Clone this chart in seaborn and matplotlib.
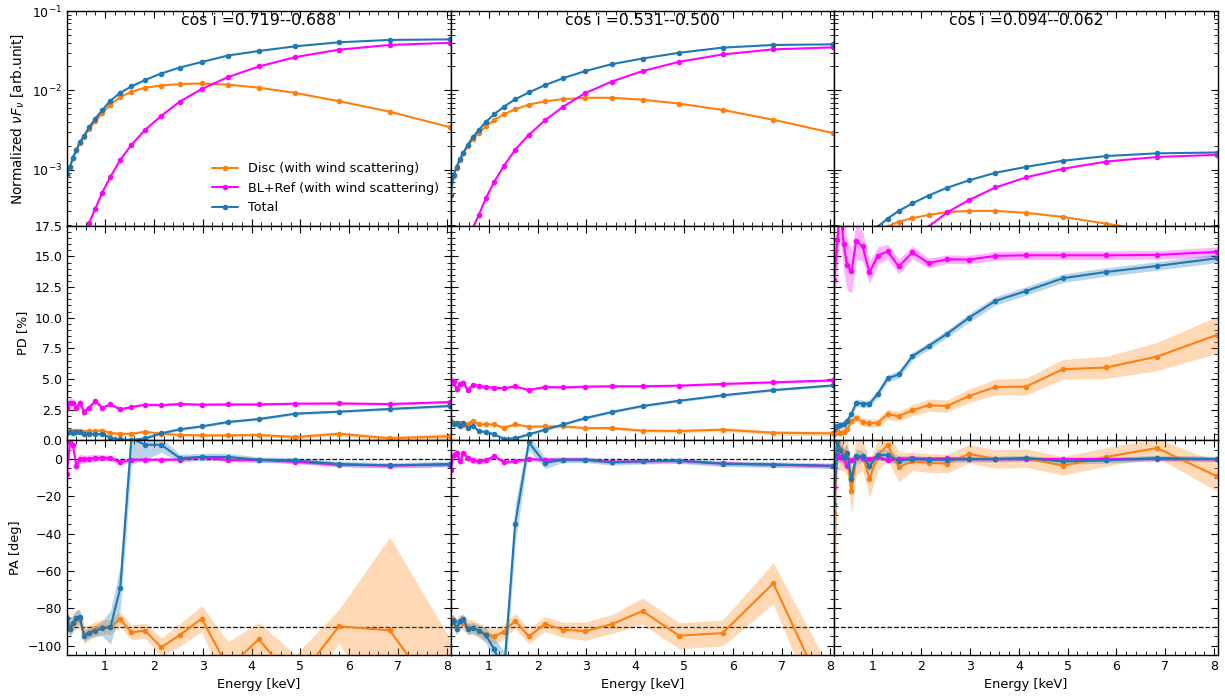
""" polarisation of disc + boundary layer emission seen through a wind,
    three inclination bins side by side: flux, PD and PA against energy """

import numpy as np
import matplotlib
matplotlib.use('Agg')
import matplotlib.pyplot as plt
from matplotlib.ticker import MultipleLocator
import seaborn as sns

# ~~~~~~~~~  Data  ~~~~ ~~~~~~ ~~~~~~~~~~~~ ~~~~~~~~~~ ~ #
energy = [0.22, 0.28, 0.34, 0.41, 0.48, 0.57, 0.67, 0.80, 0.94, 1.11, 1.31, 1.54,
          1.82, 2.15, 2.53, 2.98, 3.52, 4.15, 4.90, 5.79, 6.83, 8.06]

titles = ['cos i =0.719--0.688', 'cos i =0.531--0.500', 'cos i =0.094--0.062']
labels = ['Disc (with wind scattering)', 'BL+Ref (with wind scattering)', 'Total']
colors = ['#ff7f0e', '#ff00ff', '#1f77b4']

# normalized nuFnu, one row per inclination bin
flux_disc = [
    [8.6e-4, 1.07e-3, 1.39e-3, 1.74e-3, 2.15e-3, 2.6e-3, 3.25e-3, 4.1e-3, 5.1e-3, 6.6e-3, 8.2e-3,
     9.6e-3, 1.08e-2, 1.15e-2, 1.2e-2, 1.22e-2, 1.18e-2, 1.08e-2, 9.25e-3, 7.3e-3, 5.37e-3, 3.43e-3],
    [4.8e-4, 8.4e-4, 1.06e-3, 1.33e-3, 1.6e-3, 1.96e-3, 2.4e-3, 2.9e-3, 3.52e-3, 4.2e-3, 5.0e-3,
     5.76e-3, 6.6e-3, 7.25e-3, 7.74e-3, 8.05e-3, 8.05e-3, 7.6e-3, 6.8e-3, 5.65e-3, 4.25e-3, 2.88e-3],
    [1.9e-5, 2.7e-5, 3.5e-5, 4.5e-5, 5.6e-5, 7.0e-5, 8.8e-5, 1.08e-4, 1.3e-4, 1.55e-4, 1.9e-4,
     2.2e-4, 2.43e-4, 2.67e-4, 2.9e-4, 3.0e-4, 3.0e-4, 2.84e-4, 2.52e-4, 2.07e-4, 1.65e-4, 1.2e-4]]
flux_bl = [
    [3e-6, 7e-6, 1.5e-5, 3e-5, 6e-5, 1.1e-4, 2.1e-4, 3.2e-4, 5.1e-4, 8.1e-4, 1.32e-3,
     2.05e-3, 3.16e-3, 4.75e-3, 7.2e-3, 1.04e-2, 1.47e-2, 2.0e-2, 2.63e-2, 3.26e-2, 3.74e-2, 3.98e-2],
    [2e-6, 5e-6, 1e-5, 2e-5, 4e-5, 8e-5, 1.8e-4, 2.7e-4, 4.33e-4, 6.95e-4, 1.11e-3,
     1.77e-3, 2.73e-3, 4.17e-3, 6.24e-3, 9.25e-3, 1.29e-2, 1.75e-2, 2.29e-2, 2.84e-2, 3.29e-2, 3.49e-2],
    [1e-7, 2e-7, 4e-7, 8e-7, 1.5e-6, 3e-6, 5e-6, 9e-6, 1.6e-5, 3e-5, 5e-5,
     8e-5, 1.25e-4, 1.9e-4, 2.87e-4, 4.12e-4, 5.93e-4, 7.97e-4, 1.02e-3, 1.26e-3, 1.44e-3, 1.53e-3]]
flux_tot = [
    [8.7e-4, 1.08e-3, 1.41e-3, 1.77e-3, 2.2e-3, 2.67e-3, 3.4e-3, 4.4e-3, 5.6e-3, 7.4e-3, 9.3e-3,
     1.12e-2, 1.35e-2, 1.63e-2, 1.94e-2, 2.28e-2, 2.75e-2, 3.14e-2, 3.6e-2, 4.04e-2, 4.33e-2, 4.4e-2],
    [4.8e-4, 8.5e-4, 1.07e-3, 1.35e-3, 1.64e-3, 2.04e-3, 2.55e-3, 3.18e-3, 3.99e-3, 4.98e-3, 6.2e-3,
     7.7e-3, 9.4e-3, 1.16e-2, 1.43e-2, 1.75e-2, 2.14e-2, 2.52e-2, 2.98e-2, 3.46e-2, 3.74e-2, 3.81e-2],
    [2e-5, 2.8e-5, 3.6e-5, 4.6e-5, 5.8e-5, 7.3e-5, 9.2e-5, 1.15e-4, 1.45e-4, 1.9e-4, 2.4e-4,
     3.0e-4, 3.74e-4, 4.69e-4, 5.89e-4, 7.3e-4, 9.1e-4, 1.08e-3, 1.29e-3, 1.48e-3, 1.6e-3, 1.64e-3]]

# polarisation degree [%]
pd_disc = [
    [0.68, 0.76, 0.80, 0.76, 0.78, 0.72, 0.74, 0.76, 0.80, 0.60, 0.54, 0.54, 0.70, 0.54, 0.44, 0.41,
     0.41, 0.44, 0.27, 0.54, 0.16, 0.33],
    [1.57, 1.44, 1.30, 1.44, 1.25, 1.36, 1.57, 1.30, 1.30, 1.30, 1.03, 1.30, 1.11, 1.14, 1.14, 1.00,
     1.00, 0.79, 0.76, 0.87, 0.62, 0.57],
    [0.49, 0.90, 0.63, 0.71, 0.90, 1.57, 1.84, 1.49, 1.41, 1.44, 2.12, 1.98, 2.45, 2.86, 2.80, 3.62,
     4.35, 4.38, 5.80, 5.94, 6.83, 8.60]]
pd_bl = [
    [2.66, 3.07, 3.07, 2.66, 3.07, 2.34, 2.66, 3.20, 2.66, 2.93, 2.53, 2.72, 2.91, 2.88, 2.96, 2.91,
     2.93, 2.93, 2.99, 3.01, 2.96, 3.12],
    [4.70, 4.80, 4.15, 4.60, 4.70, 4.10, 4.50, 4.45, 4.35, 4.30, 4.25, 4.40, 4.10, 4.35, 4.32, 4.38,
     4.41, 4.41, 4.46, 4.60, 4.73, 4.89],
    [13.06, 16.3, 19.0, 16.05, 14.28, 13.77, 16.27, 15.81, 13.69, 15.07, 15.4, 14.18, 15.32, 14.45,
     14.77, 14.74, 15.04, 15.09, 15.09, 15.09, 15.12, 15.37]]
pd_tot = [
    [0.62, 0.70, 0.62, 0.72, 0.68, 0.55, 0.52, 0.50, 0.52, 0.22, 0.08, 0.03, 0.16, 0.57, 0.90, 1.14,
     1.50, 1.74, 2.18, 2.34, 2.56, 2.80],
    [1.44, 1.30, 1.44, 1.17, 1.44, 0.98, 1.17, 0.76, 0.68, 0.49, 0.13, 0.16, 0.49, 0.87, 1.30, 1.82,
     2.31, 2.80, 3.23, 3.67, 4.10, 4.48],
    [0.90, 1.17, 1.25, 1.30, 1.57, 2.17, 3.07, 2.99, 2.99, 3.80, 5.05, 5.37, 6.87, 7.69, 8.69, 10.0,
     11.37, 12.18, 13.22, 13.73, 14.22, 14.85]]

# 1-sigma half widths of the PD bands
pd_disc_err = [
    [0.15, 0.15, 0.12, 0.12, 0.1, 0.1, 0.1, 0.1, 0.1, 0.1, 0.1, 0.1, 0.1, 0.1, 0.1, 0.1, 0.1, 0.12,
     0.15, 0.15, 0.2, 0.25],
    [0.15, 0.15, 0.12, 0.12, 0.12, 0.12, 0.1, 0.1, 0.1, 0.1, 0.1, 0.1, 0.1, 0.1, 0.1, 0.1, 0.12, 0.12,
     0.15, 0.15, 0.15, 0.2],
    [0.3, 0.3, 0.3, 0.3, 0.3, 0.3, 0.35, 0.35, 0.35, 0.35, 0.4, 0.4, 0.45, 0.5, 0.5, 0.55, 0.65, 0.7,
     0.8, 0.9, 1.15, 1.5]]
pd_bl_err = [
    [0.5, 0.4, 0.35, 0.3, 0.3, 0.25, 0.2, 0.2, 0.15, 0.15, 0.12, 0.1, 0.1, 0.1, 0.1, 0.1, 0.1, 0.1,
     0.1, 0.1, 0.1, 0.1],
    [0.4, 0.35, 0.3, 0.3, 0.25, 0.2, 0.2, 0.15, 0.15, 0.12, 0.12, 0.1, 0.1, 0.1, 0.1, 0.1, 0.1, 0.1,
     0.1, 0.1, 0.1, 0.1],
    [2.0, 2.0, 2.4, 2.2, 2.0, 1.8, 1.5, 1.2, 0.9, 0.7, 0.6, 0.6, 0.5, 0.4, 0.35, 0.35, 0.35, 0.35,
     0.35, 0.35, 0.35, 0.4]]
pd_tot_err = [
    [0.15, 0.15, 0.12, 0.12, 0.1, 0.1, 0.1, 0.1, 0.1, 0.1, 0.1, 0.1, 0.1, 0.1, 0.1, 0.1, 0.1, 0.1,
     0.1, 0.1, 0.1, 0.1],
    [0.15, 0.15, 0.12, 0.12, 0.12, 0.12, 0.1, 0.1, 0.1, 0.1, 0.1, 0.1, 0.1, 0.1, 0.1, 0.1, 0.1, 0.1,
     0.1, 0.1, 0.1, 0.1],
    [0.3, 0.3, 0.3, 0.3, 0.3, 0.3, 0.3, 0.3, 0.3, 0.3, 0.3, 0.3, 0.3, 0.3, 0.3, 0.35, 0.35, 0.35,
     0.35, 0.35, 0.35, 0.35]]

# polarisation angle [deg]
pa_disc = [
    [-86, -90, -88, -86, -86, -94, -93, -91, -90, -90, -85.8, -92.9, -92.0, -100.9, -94.4, -85.5,
     -112, -96.6, -120, -89.7, -91.8, -136],
    [-88, -87, -90, -87, -88, -90, -90, -92, -93.8, -95.1, -92.6, -86.7, -95.1, -88.5, -91.5, -92.2,
     -88.5, -81.5, -94.7, -93.3, -66.6, -136],
    [-29, 9, 6, 3.5, 1, -16.9, 1.4, 1.8, -10.7, 1.8, 7.6, -4.3, -1.3, -2.1, -2.5, 2.8,
     0, 0.5, -3.6, 1.1, 5.9, -9.3]]
pa_bl = [
    [-8, 8.9, 7.5, -3.6, 0, 0, 0.2, 0.5, 0.8, 0.5, -1.8, -0.4, -0.4, -0.4, -0.3, 1.0,
     -0.5, -0.5, -1.5, -3, -3.5, -3],
    [-5.7, 2.3, 3.2, -1.3, 3.2, 0.5, -0.7, -1.3, -0.7, 1.4, -1.6, -1.3, 0, -0.5, -0.3, -0.3,
     -1.5, -1.2, -1.0, -2.4, -3.0, -3.8],
    [-15, 2, 1, 0.5, -3.9, -0.4, 1.0, 0.5, 0, 1.4, -0.7, 0.2, 0.3, 0.2, 0.3, 0,
     0, 0, 0, 0, 0, 0]]
pa_tot = [
    [-85, -91, -88, -85, -84.6, -94.7, -93, -92, -90.8, -90.2, -69.2, 11, 7.6, 7.6, 0.5, 1.1,
     1.1, -0.4, -0.7, -2.7, -3.4, -2.7],
    [-87.6, -86.7, -91, -87, -86, -91, -90.5, -92, -94.5, -101.8, -115, -35.1, 8.9, -2.1, -0.4, -0.4,
     -1.8, -1.2, -0.9, -2.5, -3.0, -3.6],
    [-24, 10, 5, 1, 3, -10.7, 1.4, 1.4, -3.9, 2.3, 2.0, -0.9, 0, -0.4, -0.4, 0,
     0, 0.5, -1.3, -0.7, 0.5, 0]]

# half widths of the PA bands
pa_disc_err = [
    [5, 5, 5, 5, 5, 5, 4, 4, 4, 4, 4, 4, 4, 5, 6, 7, 14, 9, 15, 9, 50, 40],
    [4, 4, 4, 4, 4, 4, 4, 4, 4, 4, 4, 4, 4, 4, 4, 5, 5, 7, 7, 7, 11, 20],
    [80, 15, 12, 10, 10, 12, 10, 8, 10, 8, 8, 8, 5, 5, 5, 5, 5, 5, 5, 5, 5, 8]]
pa_bl_err = [
    [3, 3, 3, 3, 2.5, 2, 2, 2, 1.5, 1.5, 1.5, 1, 1, 1, 1, 1, 1, 1, 1, 1, 1, 1],
    [3, 3, 2.5, 2.5, 2, 2, 1.5, 1.5, 1.5, 1, 1, 1, 1, 1, 1, 1, 1, 1, 1, 1, 1, 1],
    [8, 4, 3, 2, 2, 1.5, 1.5, 1.5, 1, 1, 1, 1, 1, 1, 1, 1, 1, 1, 1, 1, 1, 1]]
pa_tot_err = [
    [4, 4, 4, 4, 4, 3, 3, 3, 4, 9, 12, 14, 8, 4, 2, 2, 2, 1.5, 1.5, 1.5, 1.5, 1.5],
    [3, 3, 3, 3, 3, 3, 3, 3, 4, 6, 12, 11, 4, 3, 1.5, 1.5, 1.5, 1.5, 1.5, 1.5, 1.5, 1.5],
    [50, 8, 6, 5, 5, 6, 4, 3, 3, 3, 3, 2.5, 2, 1.5, 1.5, 1.5, 1.5, 1.5, 1.5, 1.5, 1.5, 1.5]]


# ~~~~~~~~~  Definition of Functions  ~~~~ ~~~~~~ ~~~~~~~~~~~~ ~~~~~~~~~~ ~ #
def draw_series(ax, values, color, label=None, err=None):
    # optional shaded band first, then the line with dots on top
    if err is not None:
        lo = np.array(values) - np.array(err)
        hi = np.array(values) + np.array(err)
        ax.fill_between(energy, lo, hi, color=color, alpha=0.3, linewidth=0)
    sns.lineplot(x=energy, y=values, ax=ax, color=color, marker='o', markersize=4,
                 markeredgecolor=color, markeredgewidth=0, linewidth=1.5,
                 estimator=None, sort=False, errorbar=None, label=label, legend=False)
# end function draw_series


# ~~~~~~~~~  Program Execution     ~~ ~~~~ ~~~~~~ ~~~~~~~~~~~~ ~~~~~~~~~~ ~ #
sns.set_style('ticks', {'axes.edgecolor': 'black', 'xtick.color': 'black', 'ytick.color': 'black',
                        'text.color': 'black', 'axes.labelcolor': 'black'})
plt.rcParams['font.family'] = ['DejaVu Sans']
plt.rcParams['axes.linewidth'] = 1.0

fig, axes = plt.subplots(3, 3, figsize=(12.25, 6.96), dpi=100, sharex=True, sharey='row')
fig.subplots_adjust(left=0.0547, right=0.9943, top=0.984, bottom=0.059, hspace=0, wspace=0)

for c in range(3):
    ax_f, ax_pd, ax_pa = axes[0, c], axes[1, c], axes[2, c]
    ax_f.set_yscale('log')

    flux = [flux_disc[c], flux_bl[c], flux_tot[c]]
    pds = [pd_disc[c], pd_bl[c], pd_tot[c]]
    pds_err = [pd_disc_err[c], pd_bl_err[c], pd_tot_err[c]]
    pas = [pa_disc[c], pa_bl[c], pa_tot[c]]
    pas_err = [pa_disc_err[c], pa_bl_err[c], pa_tot_err[c]]

    for k in range(3):
        draw_series(ax_f, flux[k], colors[k], label=labels[k] if c == 0 else None)
        draw_series(ax_pd, pds[k], colors[k], err=pds_err[k])
        draw_series(ax_pa, pas[k], colors[k], err=pas_err[k])

    ax_pa.axhline(0, color='k', ls='--', lw=0.9, zorder=0.5)
    ax_pa.axhline(-90, color='k', ls='--', lw=0.9, zorder=0.5)

    ax_f.text(0.5, 0.99, titles[c], transform=ax_f.transAxes, ha='center', va='top', fontsize=11.3)

    for ax in (ax_f, ax_pd, ax_pa):
        ax.set_xlabel('')
        ax.set_ylabel('')
        ax.tick_params(which='both', direction='in', top=True, right=True, labelsize=9,
                       color='black', labelcolor='black')
        ax.tick_params(which='major', length=5)
        ax.tick_params(which='minor', length=3)
    ax_pa.set_xlabel('Energy [keV]', fontsize=9.3)

# shared limits and tick spacing
axes[0, 0].set_xlim(0.22, 8.08)
axes[0, 0].xaxis.set_major_locator(MultipleLocator(1))
axes[0, 0].xaxis.set_minor_locator(MultipleLocator(0.2))
axes[0, 0].set_ylim(1.95e-4, 0.1)
axes[1, 0].set_ylim(0, 17.5)
axes[1, 0].yaxis.set_major_locator(MultipleLocator(2.5))
axes[1, 0].yaxis.set_minor_locator(MultipleLocator(0.5))
axes[2, 0].set_ylim(-105, 10)
axes[2, 0].yaxis.set_major_locator(MultipleLocator(20))
axes[2, 0].yaxis.set_minor_locator(MultipleLocator(5))

axes[0, 0].set_ylabel(r'Normalized $\nu F_\nu$ [arb.unit]', fontsize=9.8)
axes[1, 0].set_ylabel('PD [%]', fontsize=9.3)
axes[2, 0].set_ylabel('PA [deg]', fontsize=9.3)

axes[0, 0].legend(loc='lower right', frameon=False, fontsize=9.2)

plt.savefig('out.png', dpi=100)
